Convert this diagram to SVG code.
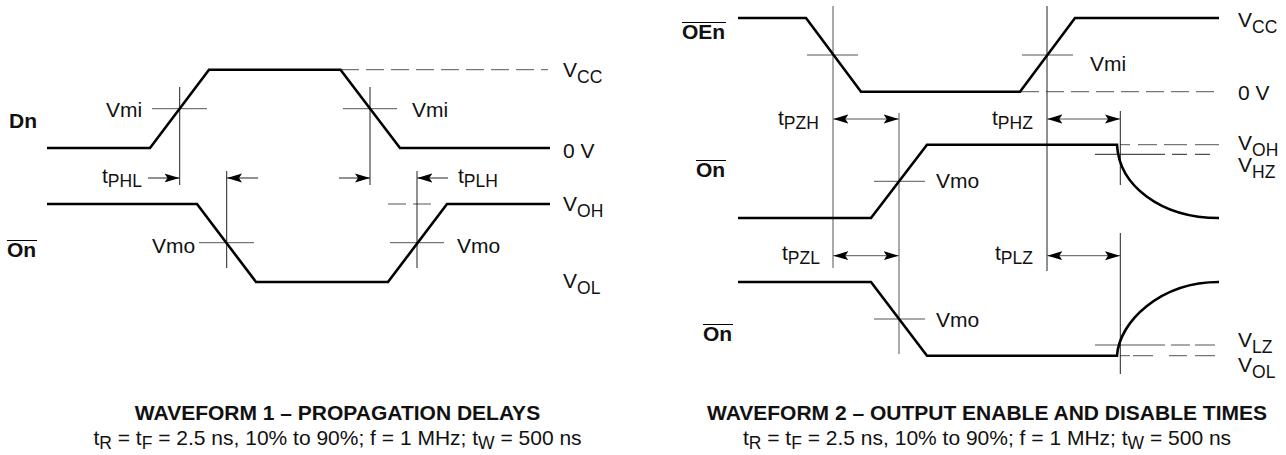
<svg xmlns="http://www.w3.org/2000/svg" width="1286" height="455" viewBox="0 0 1286 455">
<style>
text{font-family:"Liberation Sans",Arial,sans-serif;font-size:21px;fill:#111}
.b{font-weight:700}
.m{text-anchor:middle}
.s{font-size:17.500px}
.w{fill:none;stroke:#000;stroke-width:2.6;stroke-linejoin:miter}
.t{fill:none;stroke:#222;stroke-width:1}
.g{fill:none;stroke:#555;stroke-width:1}
.d{stroke-dasharray:18 7}
.o{stroke:#000;stroke-width:1;fill:none}
</style>
<defs>
<marker id="a" markerUnits="userSpaceOnUse" markerWidth="16" markerHeight="10" refX="15" refY="5" orient="auto-start-reverse"><path d="M0,0.5 L15,5 L0,9.5 L3,5 Z" fill="#000"/></marker>
</defs>
<rect width="1286" height="455" fill="#fff"/>
<g id="connectors">
<path class="g d" d="M341,69.700H548M388,204H436"/>
<path class="g d" d="M1021,91.700H1219"/>
<path class="g" d="M1120,144.700H1130M1138,144.700H1157M1164,144.700H1187M1195,144.700H1219"/>
<path class="t" d="M1095,154.300H1165M1172,154.300H1187M1195,154.300H1210"/>
<path class="g" d="M1095,345H1165M1171,345H1190M1195,345H1215"/>
<path class="g" d="M1120,355.700H1130M1133,355.700H1153M1169,355.700H1187M1195,355.700H1215"/>
<path class="g" d="M152,108.700H207M343,108.700H397M199,242.700H254M390,242.700H444"/>
<path class="g" d="M807,55H858M1022,55H1073M874,181.300H925M874,319H925"/>
<path class="t" d="M179.700,87V185M226.700,171V268M370,87V185M417,171V268"/>
<path class="g" d="M833,6V268M899,113V354"/>
<path class="t" d="M1047,6V271M1120.300,111V185M1120.300,233V374"/>
<path class="t" marker-end="url(#a)" d="M148,178H179.500"/>
<path class="t" marker-end="url(#a)" d="M258,178H227"/>
<path class="t" marker-end="url(#a)" d="M339,178H370"/>
<path class="t" marker-end="url(#a)" d="M448,178H417.300"/>
<path class="g" marker-start="url(#a)" marker-end="url(#a)" d="M833.300,119H898.700"/>
<path class="g" marker-start="url(#a)" marker-end="url(#a)" d="M1047.300,119H1120"/>
<path class="g" marker-start="url(#a)" marker-end="url(#a)" d="M833.300,255.700H898.700"/>
<path class="g" marker-start="url(#a)" marker-end="url(#a)" d="M1047.300,255.700H1120"/>
</g>
<g id="wave-dn"><path class="w" d="M47,148H150L209,69.700H340.500L400,148H550"/></g>
<g id="wave-on1"><path class="w" d="M47,204H197L256,282H388L447,204H550"/></g>
<g id="wave-oen"><path class="w" d="M738,18H806L861,91.700H1020L1075,18H1219"/></g>
<g id="wave-on2"><path class="w" d="M738,218H871L927,144.700H1117C1119,185 1160,218 1219,218"/></g>
<g id="wave-on3"><path class="w" d="M738,282H871L927,355.700H1117C1119,322 1160,282 1219,282"/></g>
<g id="labels-left">
<text class="b" x="9" y="128">Dn</text>
<path class="o" d="M7,240.500H37"/><text class="b" x="7" y="257">On</text>
<text x="106" y="117">Vmi</text>
<text x="412" y="117">Vmi</text>
<text x="152" y="253">Vmo</text>
<text x="457" y="253">Vmo</text>
<text x="102" y="183">t<tspan class="s" dy="4">PHL</tspan></text>
<text x="458" y="183">t<tspan class="s" dy="4">PLH</tspan></text>
<text x="563" y="77">V<tspan class="s" dy="6">CC</tspan></text>
<text x="563" y="158">0 V</text>
<text x="563" y="211">V<tspan class="s" dy="6">OH</tspan></text>
<text x="563" y="288">V<tspan class="s" dy="6">OL</tspan></text>
</g>
<g id="labels-right">
<path class="o" d="M682,22.500H726"/><text class="b" x="682" y="39">OEn</text>
<path class="o" d="M696,160.500H726"/><text class="b" x="696" y="177">On</text>
<path class="o" d="M703,324.500H733"/><text class="b" x="703" y="341">On</text>
<text x="1090" y="71">Vmi</text>
<text x="936" y="188">Vmo</text>
<text x="936" y="327">Vmo</text>
<text x="778" y="125">t<tspan class="s" dy="4">PZH</tspan></text>
<text x="992" y="125">t<tspan class="s" dy="4">PHZ</tspan></text>
<text x="782" y="260">t<tspan class="s" dy="4">PZL</tspan></text>
<text x="995" y="260">t<tspan class="s" dy="4">PLZ</tspan></text>
<text x="1238" y="27">V<tspan class="s" dy="6">CC</tspan></text>
<text x="1238" y="100">0 V</text>
<text x="1238" y="150">V<tspan class="s" dy="6">OH</tspan></text>
<text x="1238" y="172">V<tspan class="s" dy="6">HZ</tspan></text>
<text x="1238" y="347">V<tspan class="s" dy="6">LZ</tspan></text>
<text x="1238" y="372">V<tspan class="s" dy="6">OL</tspan></text>
</g>
<g id="captions">
<text class="b m" x="337.500" y="420">WAVEFORM 1 – PROPAGATION DELAYS</text>
<text class="m" x="337.500" y="445">t<tspan class="s" dy="4">R</tspan><tspan dy="-4"> = t</tspan><tspan class="s" dy="4">F</tspan><tspan dy="-4"> = 2.5 ns, 10% to 90%; f = 1 MHz; t</tspan><tspan class="s" dy="4">W</tspan><tspan dy="-4"> = 500 ns</tspan></text>
<text class="b m" x="987" y="420">WAVEFORM 2 – OUTPUT ENABLE AND DISABLE TIMES</text>
<text class="m" x="987" y="445">t<tspan class="s" dy="4">R</tspan><tspan dy="-4"> = t</tspan><tspan class="s" dy="4">F</tspan><tspan dy="-4"> = 2.5 ns, 10% to 90%; f = 1 MHz; t</tspan><tspan class="s" dy="4">W</tspan><tspan dy="-4"> = 500 ns</tspan></text>
</g>
</svg>
